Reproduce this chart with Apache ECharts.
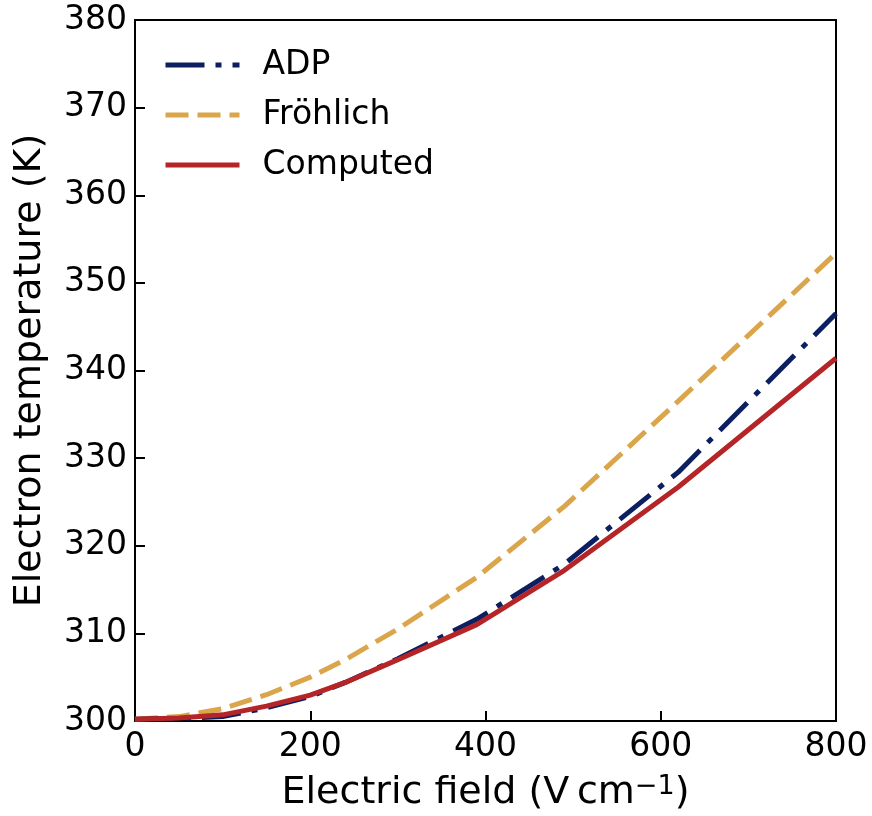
<!DOCTYPE html>
<html>
<head>
<meta charset="utf-8">
<script src="https://cdn.jsdelivr.net/npm/echarts@6/dist/echarts.min.js"></script>
<style>html,body{margin:0;padding:0;background:#fff;}#c{width:872px;height:816px;}</style>
</head>
<body>
<div id="c"></div>
<script>
const fieldValues = [0, 50, 100, 150, 200, 240, 300, 390, 490, 620, 800];
const adpValues = [300.2, 300.3, 300.5, 301.5, 302.8, 304.4, 307.1, 311.6, 317.9, 328.4, 346.5];
const frohlichValues = [300.2, 300.5, 301.4, 303.0, 305.0, 307.0, 310.5, 316.4, 324.5, 336.5, 353.4];
const computedValues = [300.2, 300.35, 300.7, 301.7, 302.95, 304.4, 307.0, 311.0, 317.2, 326.7, 341.4];
const xTicks = [0, 200, 400, 600, 800];
const yTicks = [300, 310, 320, 330, 340, 350, 360, 370, 380];
const seriesNames = ['ADP', 'Fröhlich', 'Computed'];

const pair = (vals) => fieldValues.map((x, i) => [x, vals[i]]);
const FONT = 'DejaVu Sans';

const chart = echarts.init(document.getElementById('c'), null, {renderer: 'canvas'});
chart.setOption({
  animation: false,
  backgroundColor: '#fff',
  textStyle: {fontFamily: FONT},
  grid: {left: 135, right: 36, top: 20, bottom: 95, containLabel: false, outerBoundsMode: 'none',
    show: true, borderColor: '#000', borderWidth: 2, backgroundColor: 'transparent'},
  legend: {
    left: 158, top: 43, orient: 'vertical',
    itemWidth: 74, itemHeight: 20, itemGap: 16,
    data: seriesNames,
    itemStyle: {opacity: 0},
    lineStyle: {width: 5, cap: 'butt'},
    textStyle: {fontFamily: FONT, fontSize: 33, color: '#000', padding: [0, 0, 0, 18], lineHeight: 34},
    selectedMode: false
  },
  xAxis: {
    type: 'value', min: 0, max: 800, interval: 200,
    axisLine: {show: true, lineStyle: {color: '#000', width: 2}},
    axisTick: {show: true, inside: true, length: 10, lineStyle: {color: '#000', width: 2}},
    splitLine: {show: false},
    axisLabel: {fontFamily: FONT, fontSize: 33, color: '#000', margin: 10,
      customValues: xTicks, formatter: v => String(v)},
    name: '{a|Electric field (V\u2009cm}{b|\u22121}{a|)}',
    nameLocation: 'middle', nameGap: 52,
    nameTextStyle: {rich: {
      a: {fontFamily: FONT, fontSize: 38, color: '#000'},
      b: {fontFamily: FONT, fontSize: 27, color: '#000', verticalAlign: 'top', padding: [0, 0, 14, 0]}
    }}
  },
  yAxis: {
    type: 'value', min: 300, max: 380, interval: 10,
    axisLine: {show: true, lineStyle: {color: '#000', width: 2}},
    axisTick: {show: true, inside: true, length: 10, lineStyle: {color: '#000', width: 2}},
    splitLine: {show: false},
    axisLabel: {fontFamily: FONT, fontSize: 33, color: '#000', margin: 8,
      customValues: yTicks, formatter: v => String(v)},
    name: 'Electron temperature (K)',
    nameLocation: 'middle', nameGap: 86,
    nameTextStyle: {fontFamily: FONT, fontSize: 38, color: '#000'}
  },
  series: [
    {name: seriesNames[0], type: 'line', data: pair(adpValues), showSymbol: false, symbol: 'none', z: 3,
     itemStyle: {color: '#0c1f60'},
     lineStyle: {color: '#0c1f60', width: 5, type: [39, 11, 6, 11], cap: 'butt'}},
    {name: seriesNames[1], type: 'line', data: pair(frohlichValues), showSymbol: false, symbol: 'none', z: 2,
     itemStyle: {color: '#dba64b'},
     lineStyle: {color: '#dba64b', width: 5, type: [23, 9], cap: 'butt'}},
    {name: seriesNames[2], type: 'line', data: pair(computedValues), showSymbol: false, symbol: 'none', z: 4,
     itemStyle: {color: '#b52426'},
     lineStyle: {color: '#b52426', width: 5, type: 'solid'}}
  ]
});
</script>
</body>
</html>
